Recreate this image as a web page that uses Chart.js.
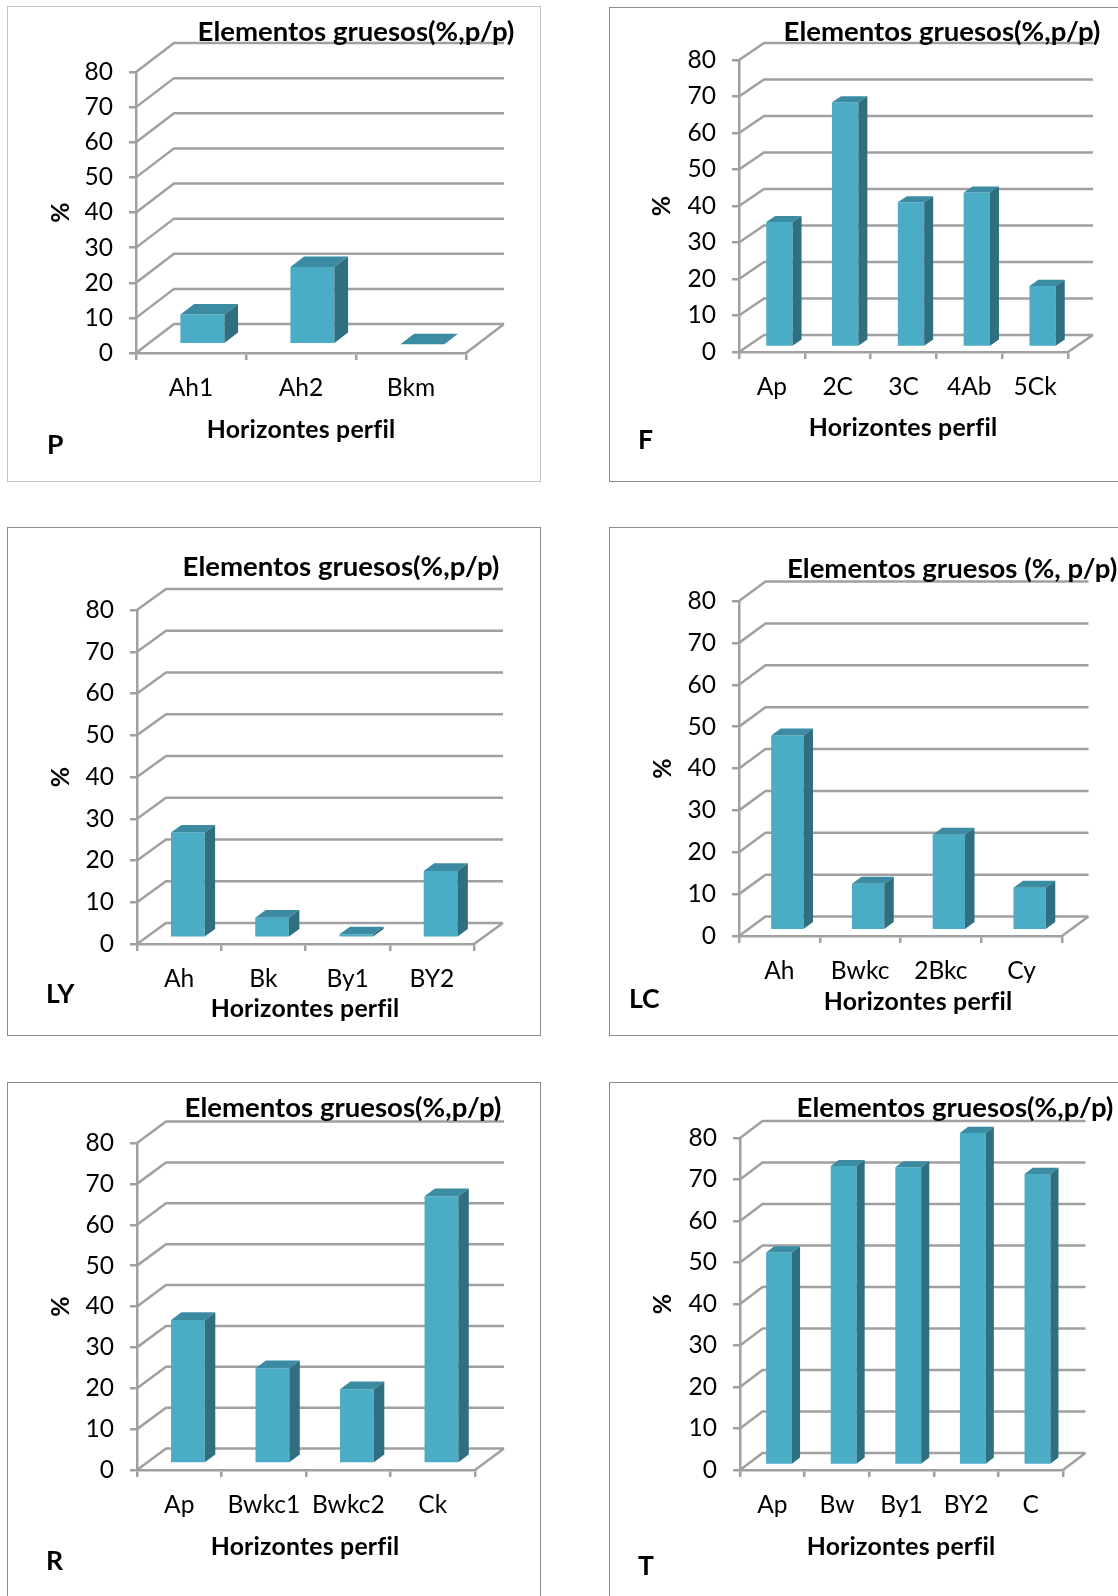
<!DOCTYPE html>
<html>
<head>
<meta charset="utf-8">
<script src="https://cdn.jsdelivr.net/npm/chart.js@4.4.1/dist/chart.umd.min.js"></script>
<style>
  html, body { margin: 0; padding: 0; background: #fff; width: 1118px; height: 1596px; overflow: hidden; }
  .panel { position: absolute; box-sizing: border-box; border: 1.5px solid #8c8c8c; background: #fff; }
  canvas { position: absolute; }
</style>
</head>
<body>
<script>
// Coarse fragments (% w/w) per soil horizon, one profile per panel
const horizonsP = ['Ah1', 'Ah2', 'Bkm'];
const valuesP = [8.5, 22, 0];
const horizonsF = ['Ap', '2C', '3C', '4Ab', '5Ck'];
const valuesF = [34.2, 67, 39.6, 42.3, 16.7];
const horizonsLY = ['Ah', 'Bk', 'By1', 'BY2'];
const valuesLY = [25.2, 4.8, 0.8, 16];
const horizonsLC = ['Ah', 'Bwkc', '2Bkc', 'Cy'];
const valuesLC = [46.5, 11.1, 22.8, 10.1];
const horizonsR = ['Ap', 'Bwkc1', 'Bwkc2', 'Ck'];
const valuesR = [35.1, 23.3, 18.2, 65.4];
const horizonsT = ['Ap', 'Bw', 'By1', 'BY2', 'C'];
const valuesT = [51.2, 72, 71.7, 80, 70.1];
const yTicks = [0, 10, 20, 30, 40, 50, 60, 70, 80];
const chartTitle = 'Elementos gruesos(%,p/p)';
const chartTitleLC = 'Elementos gruesos (%, p/p)';
const xAxisTitle = 'Horizontes perfil';
const yAxisTitle = '%';

// Colours of the 3-D columns and the walls
const FRONT = '#4bacc6';
const TOP = '#3b8ca3';
const SIDE = '#2f6f80';
const GRID = '#a0a0a0';
const GRID_W = 2.5;
const FRONT_DEPTH = 0.3;   // where the column front sits inside the floor depth
const BAR_DEPTH = 0.36;    // column depth as a share of the floor depth

const FONT = 'Lato, "Open Sans", sans-serif';
function fitSize(text, weight, target) {
  const c = document.createElement('canvas').getContext('2d');
  c.font = weight + ' 100px ' + FONT;
  return 100 * target / c.measureText(text).width;
}
const TITLE_SIZE = fitSize(chartTitle, 'bold', 317);
const AXIS_SIZE = fitSize(xAxisTitle, 'bold', 185);
const TICK_SIZE = fitSize('Bwkc1', 'normal', 68) * 1.07;
const LETTER_SIZE = fitSize('LY', 'bold', 28.5);

// Page placement of each panel
const panels = [
  { name: 'P', cats: horizonsP, vals: valuesP, title: chartTitle, box: [7, 6, 541, 482], border: '#c4c4c4',
    axisX: 136, y0: 353, y80: 72, floorR: 466, depth: [38, -29],
    titlePos: [356, 32], titleAlign: 'center', xTitle: [301, 430], yTitleX: 61, letter: [47, 445] },
  { name: 'F', cats: horizonsF, vals: valuesF, title: chartTitle, box: [609, 7, 1130, 482], border: '#8c8c8c',
    axisX: 739, y0: 352, y80: 60, floorR: 1068, depth: [25, -17],
    titlePos: [942, 32], titleAlign: 'center', xTitle: [903, 428], yTitleX: 662, letter: [638, 440] },
  { name: 'LY', cats: horizonsLY, vals: valuesLY, title: chartTitle, box: [7, 527, 541, 1036], border: '#8c8c8c',
    axisX: 137, y0: 944, y80: 610, floorR: 474, depth: [29, -21],
    titlePos: [341, 567], titleAlign: 'center', xTitle: [305, 1009], yTitleX: 61, letter: [46, 994] },
  { name: 'LC', cats: horizonsLC, vals: valuesLC, title: chartTitleLC, box: [609, 527, 1130, 1036], border: '#8c8c8c',
    axisX: 739, y0: 936, y80: 601, floorR: 1062, depth: [26.5, -19.5],
    titlePos: [787, 569], titleAlign: 'left', xTitle: [918, 1002], yTitleX: 663, letter: [629, 999] },
  { name: 'R', cats: horizonsR, vals: valuesR, title: chartTitle, box: [7, 1082, 541, 1610], border: '#8c8c8c',
    axisX: 137, y0: 1470, y80: 1143, floorR: 475, depth: [29, -21.5],
    titlePos: [343, 1108], titleAlign: 'center', xTitle: [305, 1547], yTitleX: 61, letter: [46, 1561] },
  { name: 'T', cats: horizonsT, vals: valuesT, title: chartTitle, box: [609, 1082, 1130, 1610], border: '#8c8c8c',
    axisX: 740, y0: 1470, y80: 1138, floorR: 1063, depth: [22.5, -17],
    titlePos: [955, 1108], titleAlign: 'center', xTitle: [901, 1547], yTitleX: 663, letter: [638, 1566] }
];

// Walls, floor and the side/top faces of the columns
function threeD(p) {
  return {
    id: 'threeD',
    beforeDatasetsDraw(chart) {
      const { ctx, chartArea: a, scales: { y } } = chart;
      const [dx, dy] = p.depth;
      ctx.save();
      ctx.strokeStyle = GRID;
      ctx.lineWidth = GRID_W;
      ctx.lineJoin = 'miter';
      ctx.beginPath();
      yTicks.forEach(v => {
        const py = y.getPixelForValue(v);
        ctx.moveTo(a.left, py);
        ctx.lineTo(a.left + dx, py + dy);
        ctx.lineTo(a.right + dx, py + dy);
      });
      const base = y.getPixelForValue(0);
      ctx.moveTo(a.right, base);
      ctx.lineTo(a.right + dx, base + dy);
      ctx.stroke();
      ctx.restore();
      // column fronts sit part-way into the floor depth
      ctx.save();
      ctx.translate(dx * FRONT_DEPTH, dy * FRONT_DEPTH);
    },
    afterDatasetsDraw(chart) {
      const ctx = chart.ctx;
      const [dx, dy] = p.depth;
      const bx = dx * BAR_DEPTH, by = dy * BAR_DEPTH;
      chart.getDatasetMeta(0).data.forEach(bar => {
        const { x, y, base, width } = bar.getProps(['x', 'y', 'base', 'width'], true);
        const l = x - width / 2, r = x + width / 2;
        ctx.fillStyle = TOP;
        ctx.beginPath();
        ctx.moveTo(l, y); ctx.lineTo(r, y); ctx.lineTo(r + bx, y + by); ctx.lineTo(l + bx, y + by);
        ctx.closePath(); ctx.fill();
        ctx.fillStyle = SIDE;
        ctx.beginPath();
        ctx.moveTo(r, y); ctx.lineTo(r + bx, y + by); ctx.lineTo(r + bx, base + by); ctx.lineTo(r, base);
        ctx.closePath(); ctx.fill();
      });
      ctx.restore();
    }
  };
}

// Chart title, axis titles and the profile letter
function labels(p) {
  return {
    id: 'labels',
    afterDraw(chart) {
      const ctx = chart.ctx, a = chart.chartArea;
      const ox = p.box[0], oy = p.box[1];
      ctx.save();
      ctx.fillStyle = '#000';
      ctx.textBaseline = 'middle';
      ctx.font = 'bold ' + TITLE_SIZE + 'px ' + FONT;
      ctx.textAlign = p.titleAlign;
      ctx.fillText(p.title, p.titlePos[0] - ox, p.titlePos[1] - oy);
      ctx.font = 'bold ' + AXIS_SIZE + 'px ' + FONT;
      ctx.textAlign = 'center';
      ctx.letterSpacing = '0.2px';
      ctx.fillText(xAxisTitle, p.xTitle[0] - ox, p.xTitle[1] - oy);
      ctx.letterSpacing = '0px';
      ctx.save();
      ctx.translate(p.yTitleX - ox, (a.top + a.bottom) / 2);
      ctx.rotate(-Math.PI / 2);
      ctx.fillText(yAxisTitle, 0, 0);
      ctx.restore();
      ctx.font = 'bold ' + LETTER_SIZE + 'px ' + FONT;
      ctx.textAlign = 'left';
      ctx.fillText(p.name, p.letter[0] - ox, p.letter[1] - oy);
      ctx.restore();
    }
  };
}

panels.forEach(p => {
  const [x1, y1, x2, y2] = p.box;
  const W = x2 - x1, H = y2 - y1;
  const frame = document.createElement('div');
  frame.className = 'panel';
  Object.assign(frame.style, { left: x1 + 'px', top: y1 + 'px', width: W + 'px', height: H + 'px', borderColor: p.border });
  document.body.appendChild(frame);

  const cv = document.createElement('canvas');
  cv.width = W; cv.height = H;
  Object.assign(cv.style, { left: x1 + 'px', top: y1 + 'px', width: W + 'px', height: H + 'px' });
  document.body.appendChild(cv);

  const YW = 100, XH = 60;
  const tickFont = { family: FONT, size: TICK_SIZE };
  new Chart(cv, {
    type: 'bar',
    data: {
      labels: p.cats,
      datasets: [{ data: p.vals, backgroundColor: FRONT, borderWidth: 0,
                   barPercentage: 0.4, categoryPercentage: 1, clip: false }]
    },
    options: {
      responsive: false, animation: false, devicePixelRatio: 1,
      layout: { padding: { left: p.axisX - x1 - YW, top: p.y80 - y1,
                           right: W - (p.floorR - x1), bottom: H - (p.y0 - y1) - XH } },
      plugins: { legend: { display: false }, tooltip: { enabled: false }, title: { display: false } },
      scales: {
        x: {
          offset: true,
          grid: { offset: true, drawOnChartArea: false, drawTicks: true, tickLength: 7, color: GRID, lineWidth: GRID_W },
          border: { display: true, color: GRID, width: GRID_W },
          ticks: { font: tickFont, color: '#000', padding: 13, maxRotation: 0, autoSkip: false },
          afterFit(s) { s.height = XH; }
        },
        y: {
          min: 0, max: 80,
          afterBuildTicks(s) { s.ticks = yTicks.map(v => ({ value: v })); },
          grid: { drawOnChartArea: false, drawTicks: true, tickLength: 7, color: GRID, lineWidth: GRID_W },
          border: { display: true, color: GRID, width: GRID_W },
          ticks: { font: tickFont, color: '#000', padding: 16 },
          afterFit(s) { s.width = YW; }
        }
      }
    },
    plugins: [threeD(p), labels(p)]
  });
});
</script>
</body>
</html>
